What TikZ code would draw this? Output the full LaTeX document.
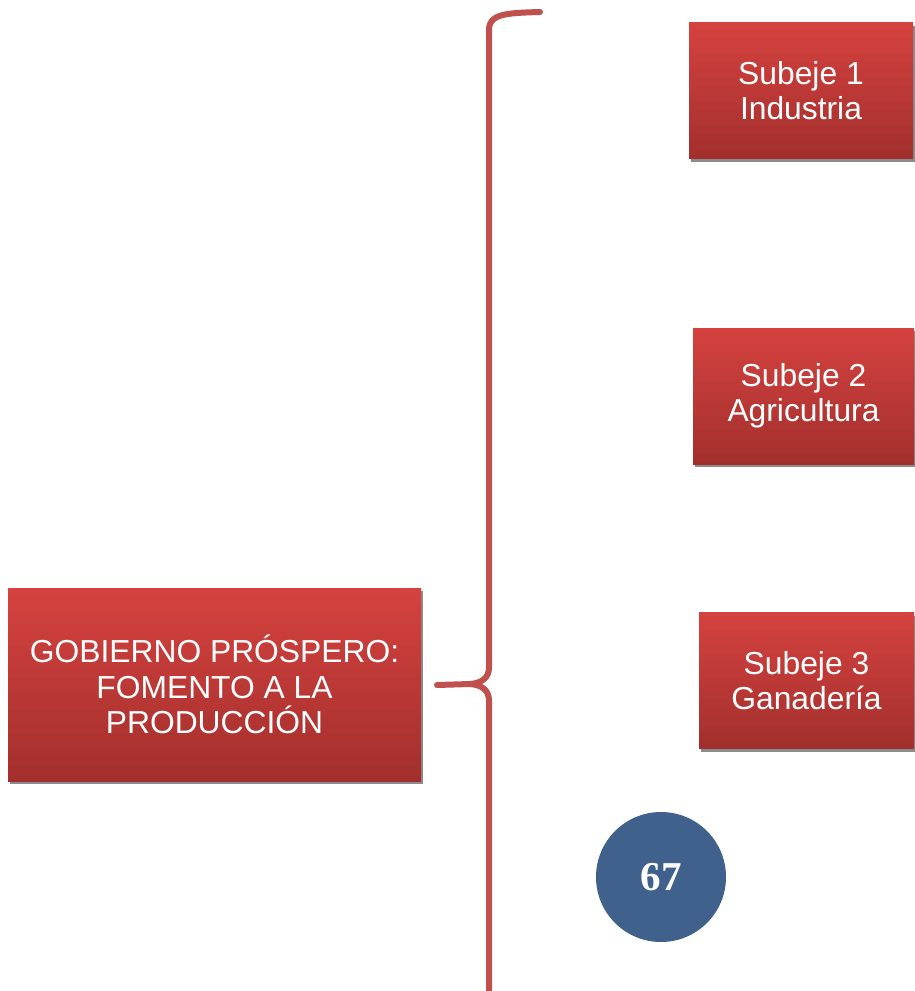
\documentclass[tikz,border=0pt]{standalone}
\usepackage{fontspec}
\setmainfont{Liberation Sans}
\newfontfamily\numfont{Liberation Serif}
\usetikzlibrary{shadows}
\definecolor{boxtop}{HTML}{D5423F}
\definecolor{boxbot}{HTML}{A22F2D}
\definecolor{bracecol}{HTML}{C0504D}
\definecolor{circcol}{HTML}{3F618B}
\tikzset{
  redbox/.style={rectangle, draw=none, top color=boxtop, bottom color=boxbot,
    text=white, align=center, inner sep=0pt,
    font=\fontsize{31.8}{35.5}\selectfont,
    drop shadow={shadow xshift=2pt, shadow yshift=-3pt, opacity=0.45, fill=black}},
  bracestyle/.style={draw=bracecol, line width=6pt, line cap=round, line join=round},
  numcirc/.style={circle, fill=circcol, text=white, inner sep=0pt,
    minimum size=130pt, font=\numfont\bfseries\fontsize{41}{41}\selectfont}
}
\begin{document}
\begin{tikzpicture}[x=1pt, y=-1pt]
\useasboundingbox (0,0) rectangle (914,991);
\fill[white] (0,0) rectangle (914,991);
% brace
\coordinate (btop) at (540,12);
\coordinate (bbot) at (489,1000);
\coordinate (tip) at (470,684);
\coordinate (bend) at (437,685);
\draw[bracestyle] (btop) .. controls (505,13) and (489,14) .. (489,30) -- (489,667)
  .. controls (489,678) and (482,683) .. (tip) -- (bend);
\draw[bracestyle] (tip) .. controls (482,685) and (489,690) .. (489,701) -- (bbot);
% boxes
\node[redbox, minimum width=413pt, minimum height=193pt] (main) at (214.5,684.5)
  {GOBIERNO PRÓSPERO:\\FOMENTO A LA\\PRODUCCIÓN};
\node[redbox, minimum width=224pt, minimum height=136pt] (s1) at (801,90.5)
  {Subeje 1\\Industria};
\node[redbox, minimum width=221pt, minimum height=136pt] (s2) at (803.5,396)
  {Subeje 2\\Agricultura};
\node[redbox, minimum width=215pt, minimum height=136pt] (s3) at (806.5,680.5)
  {Subeje 3\\Ganadería};
\node[numcirc] (num) at (661,877) {67};
\end{tikzpicture}
\end{document}
